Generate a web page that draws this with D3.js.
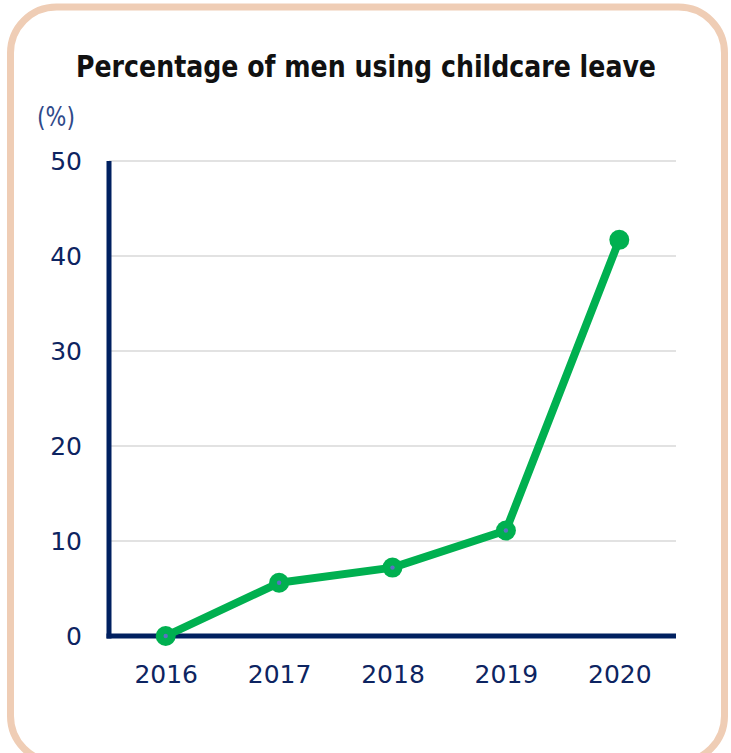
<!DOCTYPE html>
<html>
<head>
<meta charset="utf-8">
<script src="https://cdn.jsdelivr.net/npm/d3@7"></script>
<style>
  body { margin: 0; background: #fff; }
  svg { display: block; }
</style>
</head>
<body>
<svg id="chart"></svg>
<script>
// data
var years = ["2016", "2017", "2018", "2019", "2020"];
var rates = [0, 5.6, 7.2, 11.1, 41.7];
var yTicks = [0, 10, 20, 30, 40, 50];

var chartTitle = "Percentage of men using childcare leave";
var unitLabel = "(%)";

var screen = { width: 731, height: 753 };
var plot = { left: 109, right: 676, top: 161, bottom: 636 };

var svg = d3.select("#chart")
    .attr("width", screen.width)
    .attr("height", screen.height);

// rounded frame
svg.append("rect")
    .attr("x", 10.5)
    .attr("y", 7)
    .attr("width", 714)
    .attr("height", 755)
    .attr("rx", 46)
    .attr("fill", "#fff")
    .attr("stroke", "#efcdb5")
    .attr("stroke-width", 7);

svg.append("text")
    .attr("x", 366)
    .attr("y", 77)
    .attr("text-anchor", "middle")
    .attr("font-family", "'Liberation Sans Narrow', 'DejaVu Sans Condensed', Roboto, sans-serif")
    .attr("font-weight", "bold")
    .attr("font-size", 30)
    .attr("textLength", 580)
    .attr("lengthAdjust", "spacingAndGlyphs")
    .attr("fill", "#111")
    .text(chartTitle);

svg.append("text")
    .attr("x", 56)
    .attr("y", 126)
    .attr("text-anchor", "middle")
    .attr("font-family", "'Liberation Sans Narrow', 'DejaVu Sans Condensed', sans-serif")
    .attr("font-size", 27)
    .attr("textLength", 38)
    .attr("lengthAdjust", "spacingAndGlyphs")
    .attr("fill", "#2f4a8a")
    .text(unitLabel);

var xScale = d3.scalePoint()
    .domain(years)
    .range([plot.left, plot.right])
    .padding(0.5);

var yScale = d3.scaleLinear()
    .domain([0, 50])
    .range([plot.bottom, plot.top]);

// grid lines
svg.append("g")
    .selectAll("line")
    .data(yTicks.filter(function(t){ return t > 0; }))
    .enter()
    .append("line")
    .attr("x1", plot.left)
    .attr("x2", plot.right)
    .attr("y1", function(t){ return yScale(t); })
    .attr("y2", function(t){ return yScale(t); })
    .attr("stroke", "#d9d9d9")
    .attr("stroke-width", 1.5);

// y axis labels
var yAxis = d3.axisLeft(yScale)
    .tickValues(yTicks)
    .tickSize(0)
    .tickPadding(27);

var gy = svg.append("g")
    .attr("transform", "translate(" + plot.left + ",0)")
    .call(yAxis);
gy.select(".domain").remove();
gy.selectAll("text")
    .attr("font-family", "'DejaVu Sans', Verdana, sans-serif")
    .attr("font-size", 25)
    .attr("fill", "#0d2461");

// x axis labels
var xAxis = d3.axisBottom(xScale)
    .tickSize(0)
    .tickPadding(29);

var gx = svg.append("g")
    .attr("transform", "translate(0," + plot.bottom + ")")
    .call(xAxis);
gx.select(".domain").remove();
gx.selectAll("text")
    .attr("font-family", "'DejaVu Sans', Verdana, sans-serif")
    .attr("font-size", 25)
    .attr("fill", "#0d2461");

// axis lines
svg.append("line")
    .attr("x1", plot.left)
    .attr("x2", plot.left)
    .attr("y1", plot.top)
    .attr("y2", plot.bottom + 2.5)
    .attr("stroke", "#002060")
    .attr("stroke-width", 5);

svg.append("line")
    .attr("x1", plot.left - 2.5)
    .attr("x2", plot.right)
    .attr("y1", plot.bottom)
    .attr("y2", plot.bottom)
    .attr("stroke", "#002060")
    .attr("stroke-width", 5);

// line series
var line = d3.line()
    .x(function(d, i){ return xScale(years[i]); })
    .y(function(d){ return yScale(d); });

svg.append("path")
    .datum(rates)
    .attr("d", line)
    .attr("fill", "none")
    .attr("stroke", "#00b050")
    .attr("stroke-width", 8)
    .attr("stroke-linejoin", "round");

svg.append("g")
    .selectAll("circle")
    .data(rates)
    .enter()
    .append("circle")
    .attr("cx", function(d, i){ return xScale(years[i]); })
    .attr("cy", function(d){ return yScale(d); })
    .attr("r", 10)
    .attr("fill", "#00b050");

svg.append("g")
    .selectAll("circle")
    .data(rates.slice(0, 4))
    .enter()
    .append("circle")
    .attr("cx", function(d, i){ return xScale(years[i]); })
    .attr("cy", function(d){ return yScale(d); })
    .attr("r", 2.2)
    .attr("fill", "#5b6fc4");
</script>
</body>
</html>
